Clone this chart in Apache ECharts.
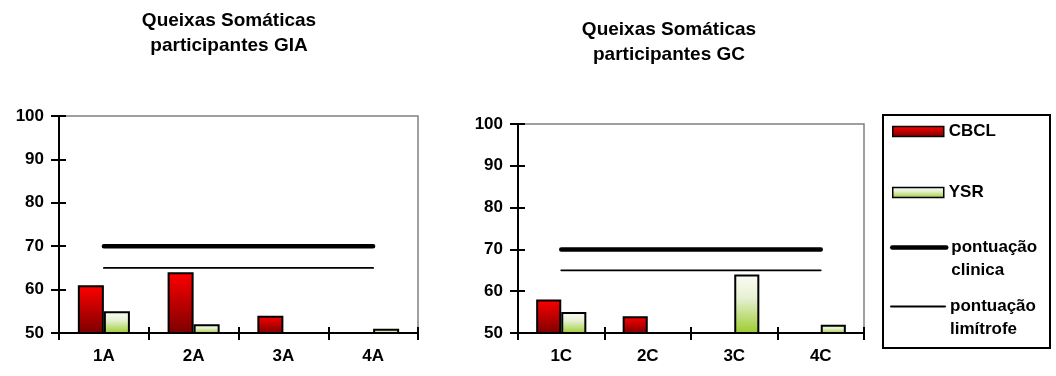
<!DOCTYPE html>
<html>
<head>
<meta charset="utf-8">
<script src="https://cdn.jsdelivr.net/npm/echarts@6/dist/echarts.min.js"></script>
<style>
html,body{margin:0;padding:0;background:#fff;}
#chart{width:1056px;height:376px;}
</style>
</head>
<body>
<div id="chart"></div>
<script>
// ---- data ----
var categoriesA = ['1A', '2A', '3A', '4A'];
var cbclA = [61, 64, 54, null];
var ysrA = [55, 52, null, 51];
var categoriesC = ['1C', '2C', '3C', '4C'];
var cbclC = [58, 54, null, null];
var ysrC = [55, null, 64, 52];
var clinicaA = [70, 70, 70, 70];
var limitrofeA = [65, 65, 65, 65];
var clinicaC = [70, 70, 70, 70];
var limitrofeC = [65, 65, 65, 65];
var yTicks = { min: 50, max: 100, interval: 10 };
var titleA = 'Queixas Somáticas\nparticipantes GIA';
var titleC = 'Queixas Somáticas\nparticipantes GC';
var nameCBCL = 'CBCL', nameYSR = 'YSR';
var nameClin = 'pontuação clinica', nameLim = 'pontuação limítrofe';

// ---- styles ----
var FONT = '"Liberation Sans", Arial, sans-serif';
var redGrad = new echarts.graphic.LinearGradient(0, 0, 0, 1, [
  { offset: 0, color: '#ff0000' }, { offset: 1, color: '#7a0000' }]);
var greenGrad = new echarts.graphic.LinearGradient(0, 0, 0, 1, [
  { offset: 0, color: '#fbfdf6' }, { offset: 0.4, color: '#e6f0d2' }, { offset: 1, color: '#99cc2a' }]);

function toNull(arr) { return arr.map(function (v) { return v == null ? '-' : v; }); }

function mainX(grid, cats) {
  return {
    type: 'category', gridIndex: grid, data: cats, boundaryGap: true,
    axisLine: { show: true, lineStyle: { color: '#000', width: 2 } },
    axisTick: { show: true, inside: false, length: 7, lineStyle: { color: '#000', width: 2 } },
    axisLabel: { color: '#000', fontWeight: 'bold', fontSize: 17, fontFamily: FONT, margin: 15 },
    splitLine: { show: false }
  };
}
function tickX(grid, cats) {
  return {
    type: 'category', gridIndex: grid, data: cats, boundaryGap: true, position: 'bottom',
    axisLine: { show: false },
    axisTick: { show: true, inside: true, length: 6, lineStyle: { color: '#000', width: 2 } },
    axisLabel: { show: false }, splitLine: { show: false }
  };
}
function mainY(grid) {
  return {
    type: 'value', gridIndex: grid, min: yTicks.min, max: yTicks.max, interval: yTicks.interval, position: 'left',
    axisLine: { show: true, lineStyle: { color: '#000', width: 2 } },
    axisTick: { show: true, inside: false, length: 8, lineStyle: { color: '#000', width: 2 } },
    axisLabel: { color: '#000', fontWeight: 'bold', fontSize: 17, fontFamily: FONT, margin: 15 },
    splitLine: { show: false }
  };
}
function tickY(grid) {
  return {
    type: 'value', gridIndex: grid, min: yTicks.min, max: yTicks.max, interval: yTicks.interval, position: 'left', offset: 0,
    axisLine: { show: false },
    axisTick: { show: true, inside: true, length: 7, lineStyle: { color: '#000', width: 2 } },
    axisLabel: { show: false }, splitLine: { show: false }
  };
}
function barSeries(name, data, xi, yi, grad) {
  return {
    type: 'bar', name: name, xAxisIndex: xi, yAxisIndex: yi, data: toNull(data),
    barWidth: '29%', barGap: '0%',
    itemStyle: { color: grad, borderColor: '#000', borderWidth: 2 },
    emphasis: { disabled: true }, z: 2
  };
}
function lineSeries(name, data, xi, yi, w) {
  return {
    type: 'line', name: name, xAxisIndex: xi, yAxisIndex: yi, data: data,
    symbol: 'none', showSymbol: false,
    lineStyle: { color: '#000', width: w, cap: 'round' },
    itemStyle: { color: '#000' },
    emphasis: { disabled: true }, z: 3
  };
}
function barLegend(name, top) {
  return {
    data: [{ name: name, icon: 'rect' }], orient: 'vertical', left: 892, top: top, padding: 0,
    itemWidth: 51, itemHeight: 10, selectedMode: false,
    textStyle: { color: '#000', fontWeight: 'bold', fontSize: 17, fontFamily: FONT, lineHeight: 23 },
    itemStyle: { borderColor: '#000', borderWidth: 1.5 }
  };
}
function lineLegend(name, top, w) {
  return {
    data: [name], orient: 'vertical', left: 890, top: top, padding: 0,
    itemWidth: 54, itemHeight: 10, selectedMode: false,
    formatter: function (n) { return '\n' + n.replace(' ', '\n'); },
    textStyle: { color: '#000', fontWeight: 'bold', fontSize: 17, fontFamily: FONT, lineHeight: 23 },
    itemStyle: { opacity: 0 },
    lineStyle: { color: '#000', width: w, opacity: 1 }
  };
}

var chart = echarts.init(document.getElementById('chart'), null, { renderer: 'canvas' });
chart.setOption({
  animation: false,
  backgroundColor: '#fff',
  title: [
    { text: titleA, left: 229, top: 8, textAlign: 'center', padding: 0,
      textStyle: { fontSize: 19, fontWeight: 'bold', fontFamily: FONT, color: '#000', lineHeight: 25 } },
    { text: titleC, left: 669, top: 17, textAlign: 'center', padding: 0,
      textStyle: { fontSize: 19, fontWeight: 'bold', fontFamily: FONT, color: '#000', lineHeight: 25 } }
  ],
  grid: [
    { left: 59, right: 638, top: 116, bottom: 43, show: true, borderColor: '#808080', borderWidth: 1.5, backgroundColor: 'transparent' },
    { left: 518, right: 192, top: 124, bottom: 43, show: true, borderColor: '#808080', borderWidth: 1.5, backgroundColor: 'transparent' }
  ],
  xAxis: [mainX(0, categoriesA), tickX(0, categoriesA), mainX(1, categoriesC), tickX(1, categoriesC)],
  yAxis: [mainY(0), tickY(0), mainY(1), tickY(1)],
  legend: [
    barLegend(nameCBCL, 120),
    barLegend(nameYSR, 181),
    lineLegend(nameClin, 213, 4.5),
    lineLegend(nameLim, 272, 2)
  ],
  graphic: [
    { type: 'rect', shape: { x: 883, y: 115, width: 167, height: 233 },
      style: { fill: 'none', stroke: '#000', lineWidth: 2 }, silent: true, z: -1 }
  ],
  series: [
    barSeries(nameCBCL, cbclA, 0, 0, redGrad),
    barSeries(nameYSR, ysrA, 0, 0, greenGrad),
    lineSeries(nameClin, clinicaA, 0, 0, 4.5),
    lineSeries(nameLim, limitrofeA, 0, 0, 1.8),
    barSeries(nameCBCL, cbclC, 2, 2, redGrad),
    barSeries(nameYSR, ysrC, 2, 2, greenGrad),
    lineSeries(nameClin, clinicaC, 2, 2, 4.5),
    lineSeries(nameLim, limitrofeC, 2, 2, 1.8)
  ]
});
</script>
</body>
</html>
